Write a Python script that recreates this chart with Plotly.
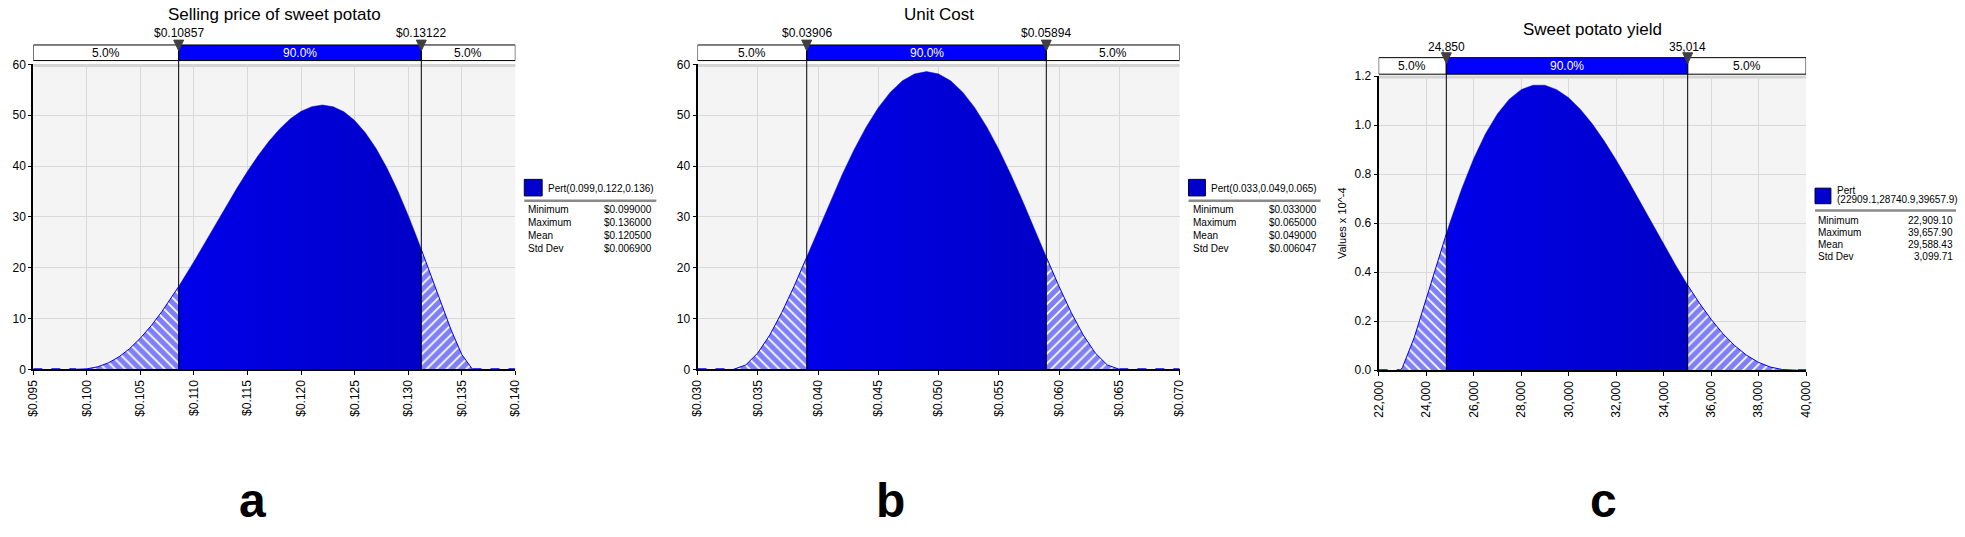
import plotly.graph_objects as go

# ---------------- data read off the three @RISK panels ----------------
# a: selling price of sweet potato, Pert(0.099, 0.122, 0.136)
price_x = [0.099, 0.100, 0.101, 0.102, 0.103, 0.104, 0.105, 0.106, 0.107, 0.108,
           0.10857, 0.109, 0.110, 0.111, 0.112, 0.113, 0.114, 0.115, 0.116, 0.117,
           0.118, 0.119, 0.120, 0.121, 0.122, 0.123, 0.124, 0.125, 0.126, 0.127,
           0.128, 0.129, 0.130, 0.131, 0.13122, 0.132, 0.133, 0.134, 0.135, 0.136]
price_y = [0, 0.09, 0.48, 1.26, 2.46, 4.09, 6.14, 8.57, 11.35, 14.42,
           16.3, 17.73, 21.22, 24.83, 28.47, 32.10, 35.62, 38.98, 42.10, 44.90,
           47.32, 49.31, 50.78, 51.70, 52.02, 51.67, 50.68, 48.97, 46.55, 43.45,
           39.66, 35.25, 30.28, 24.87, 23.6, 19.15, 13.35, 7.76, 2.91, 0]
price_pct = [0.10857, 0.13122]
price_pct_text = ['$0.10857', '$0.13122']
price_range = [0.095, 0.140]
price_ticks = [0.095, 0.100, 0.105, 0.110, 0.115, 0.120, 0.125, 0.130, 0.135, 0.140]
price_stats = ['$0.099000', '$0.136000', '$0.120500', '$0.006900']

# b: unit cost, Pert(0.033, 0.049, 0.065)
cost_x = [0.033, 0.034, 0.035, 0.036, 0.037, 0.038, 0.039, 0.03906, 0.040, 0.041,
          0.042, 0.043, 0.044, 0.045, 0.046, 0.047, 0.048, 0.049, 0.050, 0.051,
          0.052, 0.053, 0.054, 0.055, 0.056, 0.057, 0.058, 0.05894, 0.059, 0.060,
          0.061, 0.062, 0.063, 0.064, 0.065]
cost_y = [0, 0.86, 3.22, 6.77, 11.22, 16.29, 21.76, 22.1, 27.38, 32.96,
          38.31, 43.27, 47.71, 51.50, 54.55, 56.78, 58.14, 58.59, 58.14, 56.78,
          54.55, 51.50, 47.71, 43.27, 38.31, 32.96, 27.38, 22.1, 21.76, 16.29,
          11.22, 6.77, 3.22, 0.86, 0]
cost_pct = [0.03906, 0.05894]
cost_pct_text = ['$0.03906', '$0.05894']
cost_range = [0.030, 0.070]
cost_ticks = [0.030, 0.035, 0.040, 0.045, 0.050, 0.055, 0.060, 0.065, 0.070]
cost_stats = ['$0.033000', '$0.065000', '$0.049000', '$0.006047']

# c: sweet potato yield, Pert(22909.1, 28740.9, 39657.9), values x 10^-4
yield_x = [22909.1, 23000, 23500, 24000, 24500, 24850, 25000, 25500, 26000, 26500,
           27000, 27500, 28000, 28500, 29000, 29500, 30000, 30500, 31000, 31500,
           32000, 32500, 33000, 33500, 34000, 34500, 35014, 35500, 36000, 36500,
           37000, 37500, 38000, 38500, 39000, 39657.9]
yield_y = [0, 0.011, 0.134, 0.289, 0.449, 0.557, 0.602, 0.741, 0.863, 0.965,
           1.046, 1.106, 1.145, 1.163, 1.163, 1.145, 1.112, 1.064, 1.005, 0.935,
           0.858, 0.775, 0.689, 0.601, 0.514, 0.430, 0.347, 0.275, 0.208, 0.149,
           0.100, 0.061, 0.032, 0.013, 0.003, 0]
yield_pct = [24850, 35014]
yield_pct_text = ['24,850', '35,014']
yield_range = [22000, 40000]
yield_ticks = [22000, 24000, 26000, 28000, 30000, 32000, 34000, 36000, 38000, 40000]
yield_stats = ['22,909.10', '39,657.90', '29,588.43', '3,099.71']

density_ticks = [0, 10, 20, 30, 40, 50, 60]
yield_dens_ticks = [0.0, 0.2, 0.4, 0.6, 0.8, 1.0, 1.2]

titles = ['Selling price of sweet potato', 'Unit Cost', 'Sweet potato yield']
dist_labels = [['Pert(0.099,0.122,0.136)'], ['Pert(0.033,0.049,0.065)'],
               ['Pert', '(22909.1,28740.9,39657.9)']]
stat_names = ['Minimum', 'Maximum', 'Mean', 'Std Dev']
band_text = ['5.0%', '90.0%', '5.0%']
letters = ['a', 'b', 'c']

# ---------------- layout geometry (pixels) ----------------
W, H = 1965, 537
FONT = 'Liberation Sans, Arial, sans-serif'
BLUE = '#0000e6'


def P(x):
    return x / W


def Q(y):
    return 1 - y / H


def label(x, y, text, size, color='black', xanchor='center', xref='paper'):
    return dict(xref=xref, yref='paper', x=x, y=y, text=text, showarrow=False,
                xanchor=xanchor, yanchor='middle',
                font=dict(family=FONT, size=size, color=color))


geo = [
    dict(l=26.5, r=512, t=59, b=372, bar=(39, 55), pct_y=27, title_y=8,
         sw=(521, 539, 177, 194), txt_y=[186], line=(521, 654, 199),
         rows=[208, 221.5, 234.5, 247.5], lab_x=523, val_x=652, letter=(247, 507)),
    dict(l=695.5, r=1181, t=59, b=372, bar=(39, 55), pct_y=27, title_y=8,
         sw=(1190, 1207, 177, 194), txt_y=[186], line=(1190, 1323, 199),
         rows=[208, 221.5, 234.5, 247.5], lab_x=1192, val_x=1321, letter=(890, 507)),
    dict(l=1381.5, r=1812, t=71, b=373, bar=(52, 69), pct_y=41, title_y=23,
         sw=(1821, 1837, 186, 202), txt_y=[188, 198], line=(1821, 1963, 209),
         rows=[219, 231.5, 243.5, 256], lab_x=1822, val_x=1962, letter=(1608, 507)),
]

panels = [
    dict(x=price_x, y=price_y, pct=price_pct, pct_text=price_pct_text, xr=price_range,
         xt=price_ticks, yr=[0, 60], yt=density_ticks, stats=price_stats,
         xfmt='$.3f', yfmt='d'),
    dict(x=cost_x, y=cost_y, pct=cost_pct, pct_text=cost_pct_text, xr=cost_range,
         xt=cost_ticks, yr=[0, 60], yt=density_ticks, stats=cost_stats,
         xfmt='$.3f', yfmt='d'),
    dict(x=yield_x, y=yield_y, pct=yield_pct, pct_text=yield_pct_text, xr=yield_range,
         xt=yield_ticks, yr=[0, 1.2], yt=yield_dens_ticks, stats=yield_stats,
         xfmt=',d', yfmt='.1f'),
]

fig = go.Figure()
shapes = []
annotations = []
layout = {}

for i, (pn, g) in enumerate(zip(panels, geo)):
    sfx = '' if i == 0 else str(i + 1)
    xa, ya = 'x' + sfx, 'y' + sfx
    lo, hi = pn['pct']
    xs, ys = pn['x'], pn['y']

    left = [(x, y) for x, y in zip(xs, ys) if x <= lo]
    mid = [(x, y) for x, y in zip(xs, ys) if lo <= x <= hi]
    right = [(x, y) for x, y in zip(xs, ys) if x >= hi]

    # hatched tails
    for seg, shape in [(left, '\\'), (right, '/')]:
        fig.add_trace(go.Scatter(
            x=[p[0] for p in seg], y=[p[1] for p in seg], xaxis=xa, yaxis=ya,
            mode='lines', fill='tozeroy', line=dict(width=1, color=BLUE),
            fillpattern=dict(shape=shape, fgcolor='#0000f0', bgcolor='white',
                             size=7, solidity=0.75),
            hoverinfo='skip'))
    # central 90%
    fig.add_trace(go.Scatter(
        x=[p[0] for p in mid], y=[p[1] for p in mid], xaxis=xa, yaxis=ya,
        mode='lines', fill='tozeroy', line=dict(width=0.5, color='#0000d8'),
        fillgradient=dict(type='horizontal',
                          colorscale=[[0, '#0000ea'], [1, '#0000c6']]),
        hoverinfo='skip'))
    # zero line outside the support
    for seg in ([pn['xr'][0], xs[0]], [xs[-1], pn['xr'][1]]):
        fig.add_trace(go.Scatter(
            x=seg, y=[0, 0], xaxis=xa, yaxis=ya, mode='lines',
            line=dict(color=BLUE, width=2, dash='dash'), hoverinfo='skip'))

    layout['xaxis' + sfx] = dict(
        domain=[P(g['l']), P(g['r'])], range=pn['xr'], anchor=ya,
        tickvals=pn['xt'], tickformat=pn['xfmt'], tickangle=-90,
        tickfont=dict(family=FONT, size=12, color='black'),
        showgrid=True, gridcolor='#d9d9d9', zeroline=False,
        showline=True, linecolor='black', linewidth=2,
        ticks='outside', ticklen=4, tickcolor='black')
    layout['yaxis' + sfx] = dict(
        domain=[Q(g['b']), Q(g['t'])], range=pn['yr'], anchor=xa,
        tickvals=pn['yt'], tickformat=pn['yfmt'],
        tickfont=dict(family=FONT, size=12, color='black'),
        showgrid=True, gridcolor='#d9d9d9', zeroline=False,
        showline=True, linecolor='black', linewidth=2,
        ticks='outside', ticklen=3, tickcolor='black')

    # top border of plot area
    shapes.append(dict(type='line', xref='paper', yref='paper',
                       x0=P(g['l']), x1=P(g['r']), y0=Q(g['t'] + 1), y1=Q(g['t'] + 1),
                       line=dict(color='#d4d4d4', width=3), layer='below'))

    # 5% / 90% / 5% band
    bt, bb = g['bar']
    edges = [pn['xr'][0], lo, hi, pn['xr'][1]]
    for k in range(3):
        shapes.append(dict(type='rect', xref=xa, yref='paper',
                           x0=edges[k], x1=edges[k + 1], y0=Q(bb), y1=Q(bt),
                           fillcolor='#0000ff' if k == 1 else 'white',
                           line=dict(color='black', width=1)))
        annotations.append(label((edges[k] + edges[k + 1]) / 2, Q((bt + bb) / 2 + 0.5),
                                 band_text[k], 12, 'white' if k == 1 else 'black', xref=xa))

    # percentile markers
    dx = (pn['xr'][1] - pn['xr'][0]) / (g['r'] - g['l']) * 5
    for p, t in zip(pn['pct'], pn['pct_text']):
        shapes.append(dict(type='line', xref=xa, yref='paper', x0=p, x1=p,
                           y0=Q(g['b']), y1=Q(bt), line=dict(color='black', width=1)))
        shapes.append(dict(type='path', xref=xa, yref='paper',
                           path=f'M {p - dx},{Q(bt - 5)} L {p + dx},{Q(bt - 5)} L {p},{Q(bt + 6)} Z',
                           fillcolor='#404040', line=dict(color='#404040', width=1)))
        annotations.append(label(p, Q(g['pct_y']), t, 12, xref=xa))

    # title
    annotations.append(label(P((g['l'] + g['r']) / 2), Q(g['title_y']), titles[i], 17))

    # legend box with statistics
    x0, x1, y0, y1 = g['sw']
    shapes.append(dict(type='rect', xref='paper', yref='paper',
                       x0=P(x0), x1=P(x1), y0=Q(y1), y1=Q(y0),
                       fillcolor='#0000cc', line=dict(color='#000033', width=1)))
    for t, ty in zip(dist_labels[i], g['txt_y']):
        annotations.append(label(P(x1 + 4), Q(ty), t, 10, xanchor='left'))
    lx0, lx1, ly = g['line']
    shapes.append(dict(type='line', xref='paper', yref='paper', x0=P(lx0), x1=P(lx1),
                       y0=Q(ly), y1=Q(ly), line=dict(color='#8a8a8a', width=2.5)))
    for name, val, ry in zip(stat_names, pn['stats'], g['rows']):
        annotations.append(label(P(g['lab_x']), Q(ry), name, 10, xanchor='left'))
        annotations.append(label(P(g['val_x']), Q(ry), val, 10, xanchor='right'))

    # panel letter
    annotations.append(label(P(g['letter'][0]), Q(g['letter'][1]),
                             '<b>' + letters[i] + '</b>', 48))

layout['yaxis3']['title'] = dict(text='Values x 10^-4', standoff=6,
                                 font=dict(family=FONT, size=11, color='black'))

fig.update_layout(
    width=W, height=H, margin=dict(l=0, r=0, t=0, b=0),
    paper_bgcolor='white', plot_bgcolor='#f4f4f4', showlegend=False,
    shapes=shapes, annotations=annotations, **layout)

fig.write_html("out.html", config={'displayModeBar': False},
               post_script="document.body.style.margin='0';"
                           "document.body.style.overflow='hidden';")
